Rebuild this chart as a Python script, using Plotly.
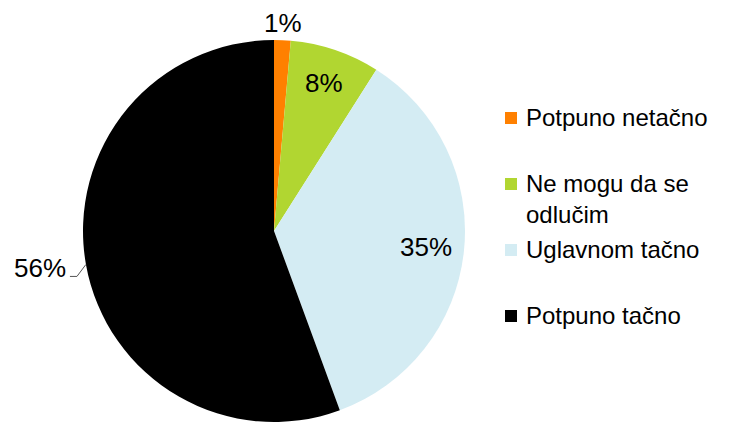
import math
import plotly.graph_objects as go

# page body has an 8px margin, so the figure is a bit smaller than the window
OFF = 8
W, H = 729 - OFF, 423 - OFF

labels = ['Potpuno netačno', 'Ne mogu da se odlučim', 'Uglavnom tačno', 'Potpuno tačno']
legend_text = ['Potpuno netačno', 'Ne mogu da se<br>odlučim', 'Uglavnom tačno', 'Potpuno tačno']
values = [1.4, 7.6, 35.4, 55.6]
pct_text = ['1%', '8%', '35%', '56%']
colors = ['#FF8000', '#B1D631', '#D4ECF3', '#000000']

FONT = 'Liberation Sans, Arial'


def px(x):
    return (x - OFF) / W


def py(y):
    return 1 - (y - OFF) / H


# pie geometry in window pixels
cx, cy, R = 274, 231, 191

fig = go.Figure(go.Pie(
    labels=labels,
    values=values,
    textinfo='none',
    marker=dict(colors=colors, line=dict(width=0)),
    sort=False,
    direction='clockwise',
    rotation=0,
    showlegend=False,
    hoverinfo='label+percent',
    domain=dict(x=[px(cx - R), px(cx + R)], y=[py(cy + R), py(cy - R)]),
))

# percentage labels placed at each slice's mid angle
radial = [1.09, 0.82, 0.80, None]
total = sum(values)
cum = 0
for v, txt, rf in zip(values, pct_text, radial):
    mid = (cum + v / 2) / total * 2 * math.pi
    cum += v
    sx, sy = math.sin(mid), -math.cos(mid)
    if rf is not None:
        fig.add_annotation(x=px(cx + rf * R * sx), y=py(cy + rf * R * sy),
                           xref='paper', yref='paper', xanchor='center', yanchor='middle',
                           text=txt, showarrow=False,
                           font=dict(family=FONT, size=26, color='black'))
    else:
        # outside label with a small leader line
        x0, y0 = cx + R * sx, cy + R * sy
        x1, y1 = x0 - 9, y0 + 12
        x2 = x1 - 7
        fig.add_shape(type='path', xref='paper', yref='paper',
                      path=f'M {px(x0)} {py(y0)} L {px(x1)} {py(y1)} L {px(x2)} {py(y1)}',
                      line=dict(color='#555555', width=1))
        fig.add_annotation(x=px(x2 - 2), y=py(y1 - 8), xref='paper', yref='paper',
                           xanchor='right', yanchor='middle', text=txt, showarrow=False,
                           font=dict(family=FONT, size=26, color='black'))

# legend drawn by hand so the spacing matches the original
legend_x, legend_top, legend_step = 505, 118, 66
for i, (txt, col) in enumerate(zip(legend_text, colors)):
    yc = legend_top + i * legend_step
    fig.add_shape(type='rect', xref='paper', yref='paper',
                  x0=px(legend_x), x1=px(legend_x + 12),
                  y0=py(yc + 6), y1=py(yc - 6),
                  fillcolor=col, line=dict(width=0))
    fig.add_annotation(x=px(legend_x + 19), y=py(yc - 16),
                       xref='paper', yref='paper', xanchor='left', yanchor='top',
                       text=txt, showarrow=False, align='left',
                       font=dict(family=FONT, size=24, color='black'))

fig.update_layout(
    width=W, height=H,
    margin=dict(l=0, r=0, t=0, b=0),
    paper_bgcolor='white',
    plot_bgcolor='white',
)

fig.write_html('out.html')
